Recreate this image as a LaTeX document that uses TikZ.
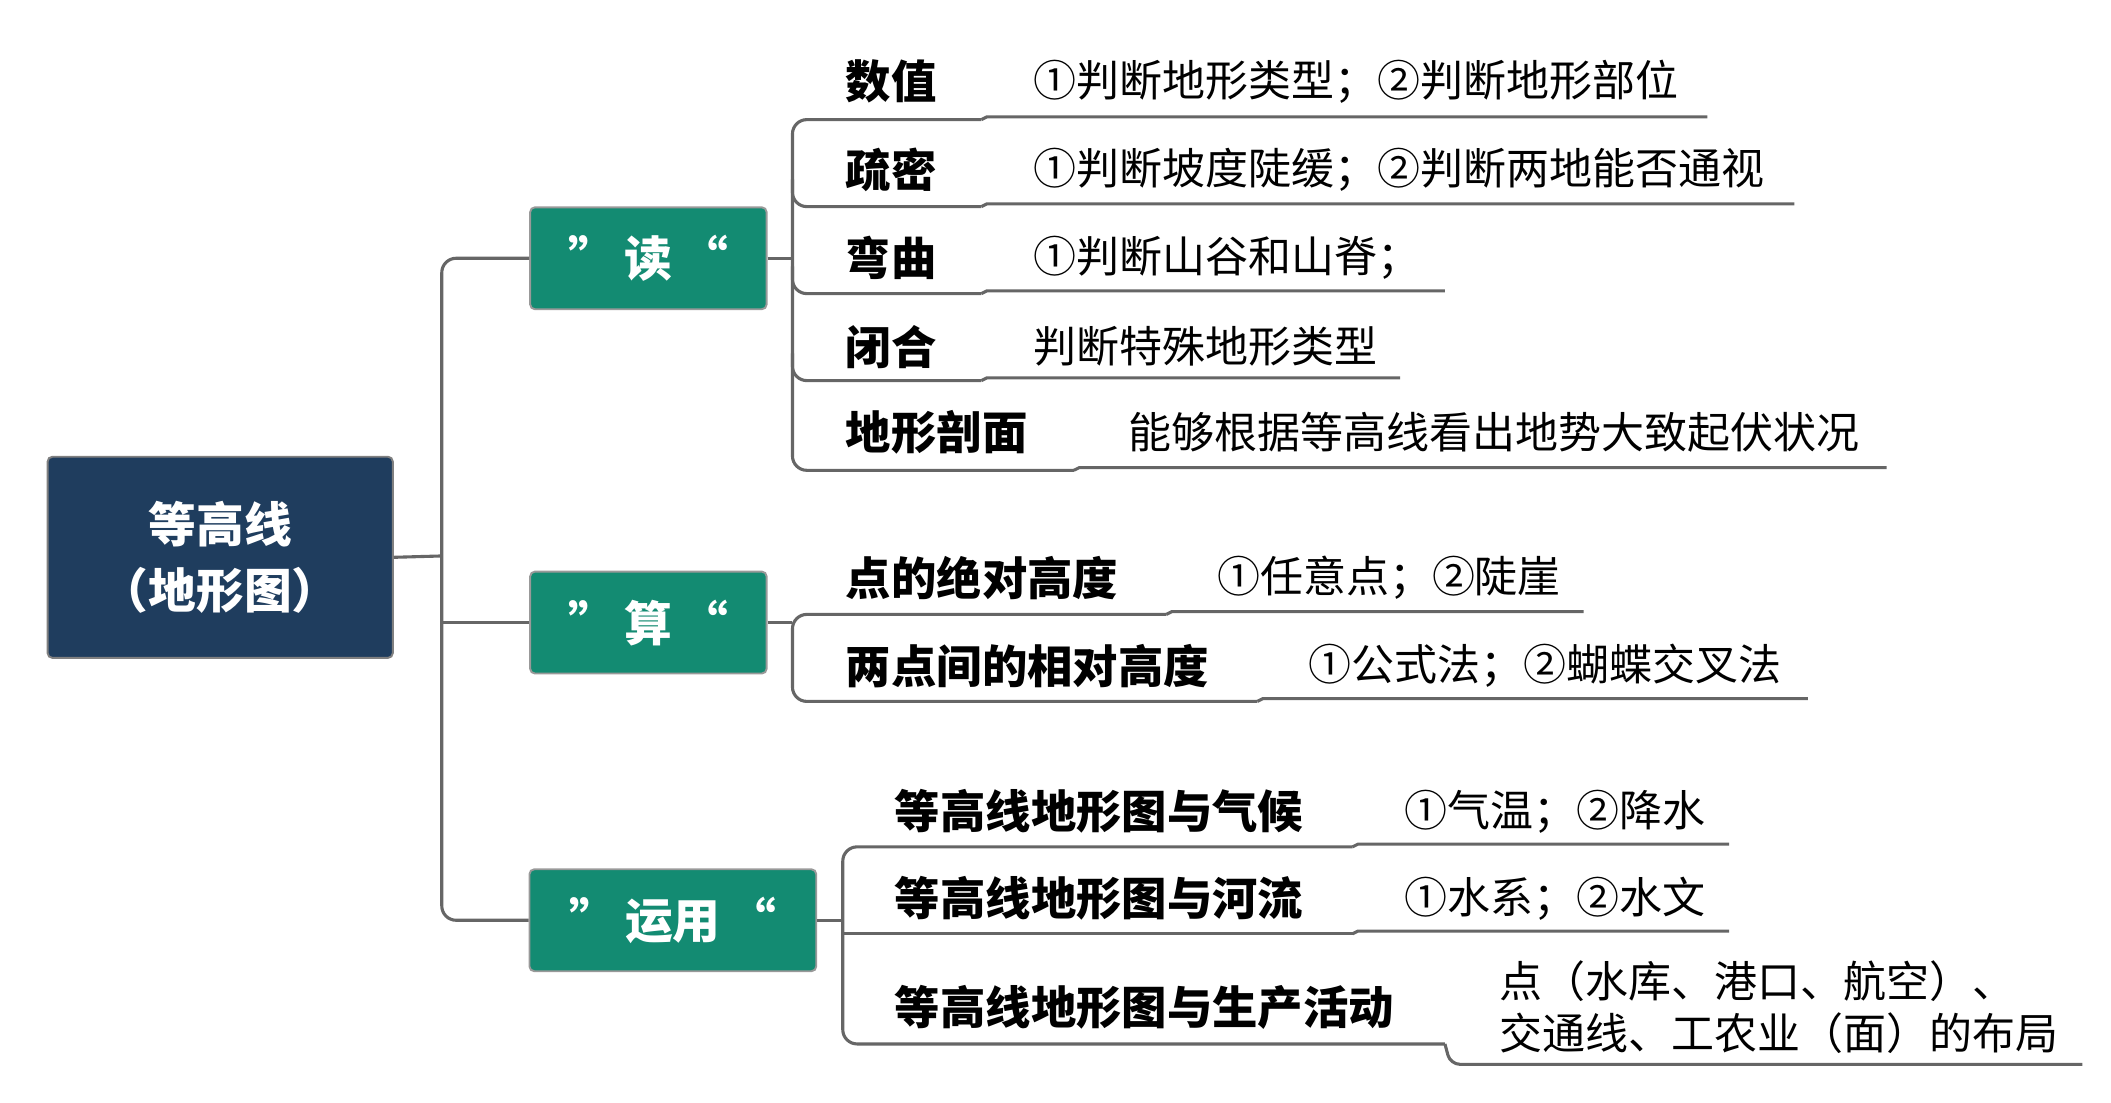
\documentclass[tikz,border=0pt]{standalone}
\usepackage{fontspec}
\setmainfont{Noto Sans CJK SC}
\begin{document}
\begin{tikzpicture}[x=0.02cm,y=-0.02cm,
  ln/.style={draw=black!60,line width=1.3pt},
  rootbox/.style={fill=rootc,draw=black!50,line width=0.8pt,rounded corners=2pt,text=white,font=\fontsize{20}{28}\selectfont\bfseries,align=center},
  catbox/.style={fill=catc,draw=black!40,line width=0.8pt,rounded corners=2pt,text=white,font=\fontsize{20}{24}\selectfont\bfseries},
  topic/.style={anchor=west,font=\fontsize{19}{22}\selectfont\bfseries,inner sep=0pt},
  leaf/.style={anchor=west,font=\fontsize{18}{22}\selectfont,inner sep=0pt,align=left}]
\definecolor{rootc}{HTML}{1F3D5E}
\definecolor{catc}{HTML}{138B72}
\useasboundingbox (0,0) rectangle (1553,811);
\node[rootbox,minimum width=5.08cm,minimum height=2.96cm] (root) at (162,410) {等高线\\（地形图）};
\node[catbox,minimum width=3.48cm,minimum height=1.5cm] (du) at (477,190) {”\,读\,“};
\node[catbox,minimum width=3.48cm,minimum height=1.5cm] (suan) at (477,458) {”\,算\,“};
\node[catbox,minimum width=4.22cm,minimum height=1.5cm] (yy) at (495,677) {”\,运用\,“};
\coordinate (j) at (325,409);
\draw[ln] (root.east) -- (j);
\draw[ln,rounded corners=6pt] (du.west) -- (325,190) -- (325,677) -- (yy.west);
\draw[ln] (325,458) -- (suan.west);
% read
\draw[ln] (du.east) -- (583,190);
\draw[ln,rounded corners=6pt] (722,88) -- (583,88) -- (583,346) -- (790,346);
\foreach \y/\e in {152/722,216/722,280/722}{\draw[ln,rounded corners=6pt] (\e,\y) -- (583,\y) -- (583,\y-20);}
\foreach \t/\y/\a/\b/\lx/\le/\txt in {数值/60/722/1256/760/88/①判断地形类型；②判断地形部位,疏密/125/722/1320/760/152/①判断坡度陡缓；②判断两地能否通视,弯曲/190/722/1063/760/216/①判断山谷和山脊；,闭合/255/722/1030/760/280/判断特殊地形类型,地形剖面/318/790/1388/830/346/能够根据等高线看出地势大致起伏状况}{
  \node[topic] (t\y) at (622,\y) {\t};
  \node[leaf] (l\y) at (\lx,\y) {\txt};
  \draw[ln] (\a,\le) -- (\a+4,\le-2) -- (\b,\le-2);
}
% calc
\draw[ln] (suan.east) -- (583,458);
\draw[ln,rounded corners=6pt] (858,452) -- (583,452) -- (583,516) -- (925,516);
\foreach \t/\y/\a/\b/\lx/\le/\txt in {点的绝对高度/425/858/1165/895/452/①任意点；②陡崖,两点间的相对高度/490/925/1330/962/516/①公式法；②蝴蝶交叉法}{
  \node[topic] (t\y) at (622,\y) {\t};
  \node[leaf] (l\y) at (\lx,\y) {\txt};
  \draw[ln] (\a,\le) -- (\a+4,\le-2) -- (\b,\le-2);
}
% use
\draw[ln] (yy.east) -- (620,677);
\draw[ln,rounded corners=6pt] (995,623) -- (620,623) -- (620,768) -- (1063,768);
\draw[ln,rounded corners=6pt] (995,687) -- (620,687);
\foreach \t/\y/\a/\b/\lx/\le/\txt in {等高线地形图与气候/597/995/1272/1033/623/①气温；②降水,等高线地形图与河流/661/995/1272/1033/687/①水系；②水文}{
  \node[topic] (t\y) at (658,\y) {\t};
  \node[leaf] (l\y) at (\lx,\y) {\txt};
  \draw[ln] (\a,\le) -- (\a+4,\le-2) -- (\b,\le-2);
}
\node[topic] (t741) at (658,741) {等高线地形图与生产活动};
\node[leaf,font=\fontsize{18}{22}\selectfont] (l741) at (1103,741) {点（水库、港口、航空）、\\交通线、工农业（面）的布局};
\draw[ln,rounded corners=4pt] (1063,768) -- (1067,783) -- (1532,783);
\end{tikzpicture}
\end{document}
